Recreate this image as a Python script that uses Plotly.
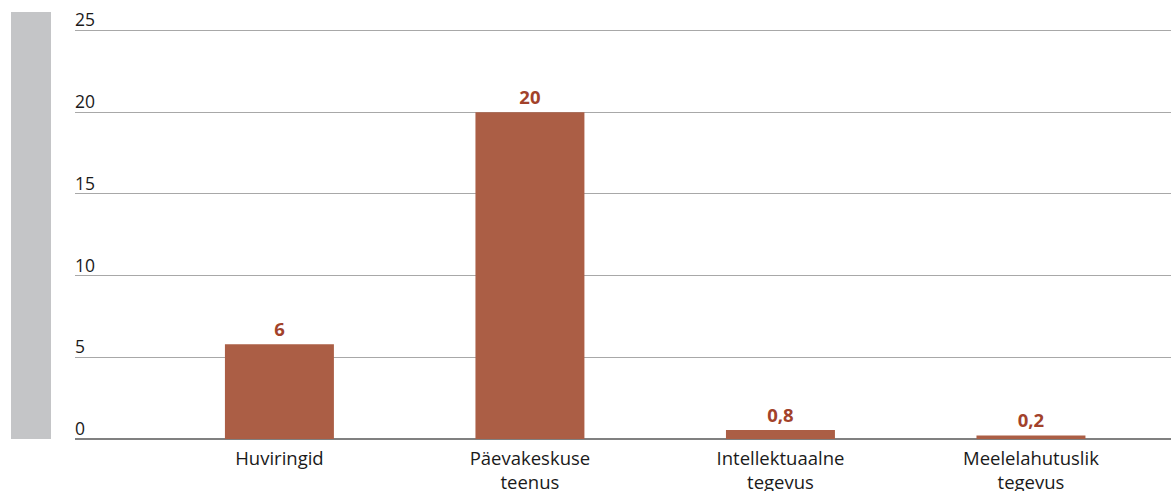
import plotly.graph_objects as go

categories = ["Huviringid", "Päevakeskuse<br>teenus", "Intellektuaalne<br>tegevus", "Meelelahutuslik<br>tegevus"]
values = [5.8, 20, 0.55, 0.22]
value_labels = ["6", "20", "0,8", "0,2"]
y_ticks = [0, 5, 10, 15, 20, 25]

W, H = 1171, 491
ml, mr, mt, mb = 75, 0, 12, 52

fig = go.Figure()
fig.add_trace(go.Bar(
    x=list(range(len(categories))),
    y=values,
    text=value_labels,
    textposition="outside",
    cliponaxis=False,
    textfont=dict(family="Open Sans", size=18.5, color="#a2422a", weight="bold"),
    marker=dict(color="#ab5e45", line=dict(width=0)),
    width=0.435,
    hoverinfo="skip",
))

annotations = [
    dict(x=0, xref="paper", y=v, yref="y", text=str(v), showarrow=False,
         xanchor="left", yanchor="bottom", xshift=-2, yshift=-3,
         font=dict(family="Open Sans", size=17.5, color="#1a1a1a"))
    for v in y_ticks
]

fig.update_layout(
    width=W, height=H,
    margin=dict(l=ml, r=mr, t=mt, b=mb, autoexpand=False),
    paper_bgcolor="white",
    plot_bgcolor="white",
    showlegend=False,
    font=dict(family="Open Sans", size=18, color="#1a1a1a"),
    xaxis=dict(
        range=[-0.816, 3.559],
        tickmode="array",
        tickvals=list(range(len(categories))),
        ticktext=categories,
        automargin=False,
        showgrid=False,
        zeroline=False,
        showline=False,
        ticks="",
        ticklabelstandoff=6,
        tickfont=dict(size=18.5, color="#1a1a1a"),
    ),
    yaxis=dict(
        range=[0, 26.13],
        tickmode="array",
        tickvals=y_ticks,
        showticklabels=False,
        automargin=False,
        showgrid=True,
        gridcolor="#a8a8a8",
        gridwidth=1,
        zeroline=True,
        zerolinecolor="#808080",
        zerolinewidth=2,
        showline=False,
        ticks="",
    ),
    annotations=annotations,
    shapes=[dict(
        type="rect", xref="paper", yref="paper",
        x0=(11 - ml) / (W - ml - mr), x1=(51 - ml) / (W - ml - mr),
        y0=0, y1=1,
        fillcolor="#c4c5c7", line=dict(width=0), layer="below",
    )],
)

fig.write_html("out.html", config={"displayModeBar": False},
               post_script="document.body.style.margin='0px';")
